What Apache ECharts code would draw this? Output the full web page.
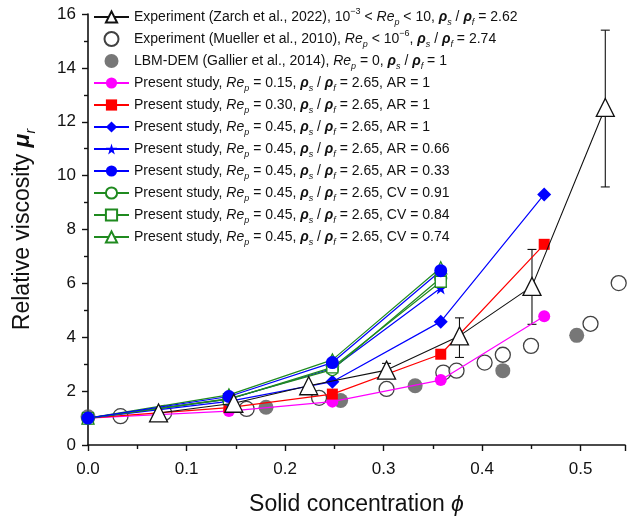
<!DOCTYPE html>
<html><head><meta charset="utf-8">
<script src="https://cdn.jsdelivr.net/npm/echarts@6/dist/echarts.min.js"></script>
<style>html,body{margin:0;padding:0;background:#fff}#c{width:629px;height:521px}</style>
</head><body><div id="c"></div>
<script>
// ---- data ----
const presentX = [0, 0.143, 0.248, 0.358, 0.463];
const re015 = [1, 1.26, 1.61, 2.41, 4.78];
const re030 = [1, 1.39, 1.89, 3.37, 7.45];
const ar100 = [1, 1.62, 2.35, 4.58, 9.30];
const ar066 = [1, 1.70, 2.84, 5.83];
const ar033 = [1, 1.80, 3.06, 6.47];
const cv091 = [1, 1.72, 2.80, 6.20];
const cv084 = [1, 1.70, 2.88, 6.06];
const cv074 = [1, 1.86, 3.16, 6.58];

const zarchX = [0.0716, 0.148, 0.224, 0.303, 0.377, 0.4506, 0.525];
const zarchY = [1.19, 1.55, 2.20, 2.78, 4.05, 5.89, 12.53];
const zarchLo = [null, null, null, 2.53, 3.25, 4.48, 9.58];
const zarchHi = [null, null, null, 3.03, 4.72, 7.26, 15.40];

const muellerX = [0.033, 0.0773, 0.161, 0.2345, 0.303, 0.3606, 0.374, 0.4025, 0.421, 0.4496, 0.510, 0.5386];
const muellerY = [1.07, 1.19, 1.34, 1.75, 2.08, 2.69, 2.76, 3.06, 3.35, 3.68, 4.50, 6.01];

const gallierX = [0, 0.1807, 0.2564, 0.332, 0.421, 0.496];
const gallierY = [1.05, 1.40, 1.65, 2.20, 2.76, 4.07];

const xTicks = [0, 0.1, 0.2, 0.3, 0.4, 0.5];
const yTicks = [0, 2, 4, 6, 8, 10, 12, 14, 16];

const names = [
  'Zarch', 'Mueller', 'Gallier', 'Re015', 'Re030', 'AR1', 'AR066', 'AR033', 'CV091', 'CV084', 'CV074'
];
const labels = {
  Zarch: 'Experiment (Zarch et al., 2022), 10{sup|−3} < {i|Re}{sub|p} < 10, {rho|ρ}{sub|s} / {rho|ρ}{sub|f} = 2.62',
  Mueller: 'Experiment (Mueller et al., 2010), {i|Re}{sub|p} < 10{sup|−6}, {rho|ρ}{sub|s} / {rho|ρ}{sub|f} = 2.74',
  Gallier: 'LBM-DEM (Gallier et al., 2014), {i|Re}{sub|p} = 0, {rho|ρ}{sub|s} / {rho|ρ}{sub|f} = 1',
  Re015: 'Present study, {i|Re}{sub|p} = 0.15, {rho|ρ}{sub|s} / {rho|ρ}{sub|f} = 2.65, AR = 1',
  Re030: 'Present study, {i|Re}{sub|p} = 0.30, {rho|ρ}{sub|s} / {rho|ρ}{sub|f} = 2.65, AR = 1',
  AR1: 'Present study, {i|Re}{sub|p} = 0.45, {rho|ρ}{sub|s} / {rho|ρ}{sub|f} = 2.65, AR = 1',
  AR066: 'Present study, {i|Re}{sub|p} = 0.45, {rho|ρ}{sub|s} / {rho|ρ}{sub|f} = 2.65, AR = 0.66',
  AR033: 'Present study, {i|Re}{sub|p} = 0.45, {rho|ρ}{sub|s} / {rho|ρ}{sub|f} = 2.65, AR = 0.33',
  CV091: 'Present study, {i|Re}{sub|p} = 0.45, {rho|ρ}{sub|s} / {rho|ρ}{sub|f} = 2.65, CV = 0.91',
  CV084: 'Present study, {i|Re}{sub|p} = 0.45, {rho|ρ}{sub|s} / {rho|ρ}{sub|f} = 2.65, CV = 0.84',
  CV074: 'Present study, {i|Re}{sub|p} = 0.45, {rho|ρ}{sub|s} / {rho|ρ}{sub|f} = 2.65, CV = 0.74'
};

const FONT = 'Liberation Sans, Arial, sans-serif';
const GREEN = '#1f8a1f';
const STAR = 'path://M50,0 L61,35 L98,35 L68,57 L79,91 L50,70 L21,91 L32,57 L2,35 L39,35 Z';

function zip(xs, ys) { return xs.map((x, i) => i < ys.length ? [x, ys[i]] : null).filter(d => d); }

function lineSeries(name, ys, color, symbol, size, open) {
  return {
    name, type: 'line', data: zip(presentX, ys), symbol, symbolSize: size,
    lineStyle: { color, width: 1.2 },
    itemStyle: open ? { color: '#fff', borderColor: color, borderWidth: 1.3 } : { color, borderWidth: 0 },
    z: 3
  };
}

const errData = zarchX.map((x, i) => [x, zarchLo[i], zarchHi[i]]).filter(d => d[1] != null);

const chart = echarts.init(document.getElementById('c'), null, { renderer: 'canvas' });
chart.setOption({
  animation: false,
  textStyle: { fontFamily: FONT },
  grid: { left: 84, right: 4, top: 14, bottom: 73, containLabel: false },
  legend: {
    orient: 'vertical', left: 88, top: 2, itemGap: 2, itemWidth: 35, itemHeight: 14,
    data: names,
    formatter: n => labels[n],
    textStyle: {
      fontFamily: FONT, fontSize: 14, color: '#111', lineHeight: 20,
      rich: {
        i: { fontStyle: 'italic', fontSize: 14, fontFamily: FONT, color: '#111', lineHeight: 20 },
        rho: { fontStyle: 'italic', fontWeight: 'bold', fontSize: 14, fontFamily: FONT, color: '#111', lineHeight: 20 },
        sub: { fontSize: 9, fontFamily: FONT, color: '#111', fontStyle: 'italic', lineHeight: 10, verticalAlign: 'bottom' },
        sup: { fontSize: 9, fontFamily: FONT, color: '#111', lineHeight: 10, verticalAlign: 'top' }
      }
    }
  },
  xAxis: {
    type: 'value', min: 0, max: 0.545, interval: 0.1,
    name: 'Solid concentration {i|ϕ}', nameLocation: 'middle', nameGap: 48,
    nameTextStyle: { fontSize: 23, color: '#111', fontFamily: FONT,
      rich: { i: { fontStyle: 'italic', fontSize: 23, fontFamily: FONT, color: '#111' } } },
    axisLine: { lineStyle: { color: '#111', width: 1.6 } },
    axisTick: { show: true, length: 6, lineStyle: { color: '#111', width: 1.4 } },
    minorTick: { show: true, splitNumber: 2, length: 4, lineStyle: { color: '#111', width: 1.4 } },
    splitLine: { show: false },
    axisLabel: { fontSize: 17, color: '#111', margin: 16, showMaxLabel: false,
      formatter: v => xTicks.some(t => Math.abs(t - v) < 1e-9) ? v.toFixed(1) : '' }
  },
  yAxis: {
    type: 'value', min: 0, max: 16, interval: 2,
    name: 'Relative viscosity {mu|μ}{sub|r}', nameLocation: 'middle', nameGap: 50,
    nameTextStyle: { fontSize: 23, color: '#111', fontFamily: FONT, lineHeight: 30,
      rich: {
        mu: { fontStyle: 'italic', fontWeight: 'bold', fontSize: 23, fontFamily: FONT, color: '#111', lineHeight: 30 },
        sub: { fontStyle: 'italic', fontSize: 14, fontFamily: FONT, color: '#111', lineHeight: 15, verticalAlign: 'bottom' }
      } },
    axisLine: { show: true, lineStyle: { color: '#111', width: 1.6 } },
    axisTick: { show: true, length: 6, lineStyle: { color: '#111', width: 1.4 } },
    minorTick: { show: true, splitNumber: 2, length: 4, lineStyle: { color: '#111', width: 1.4 } },
    splitLine: { show: false },
    axisLabel: { fontSize: 17, color: '#111', margin: 12,
      formatter: v => yTicks.includes(v) ? String(v) : '' }
  },
  series: [
    {
      name: 'ZarchErr', type: 'custom', data: errData, z: 1,
      renderItem: (params, api) => {
        const x = api.value(0), lo = api.value(1), hi = api.value(2);
        const a = api.coord([x, lo]), b = api.coord([x, hi]);
        const st = { stroke: '#111', lineWidth: 1.1 };
        return { type: 'group', children: [
          { type: 'line', shape: { x1: a[0], y1: a[1], x2: b[0], y2: b[1] }, style: st },
          { type: 'line', shape: { x1: a[0] - 4.5, y1: a[1], x2: a[0] + 4.5, y2: a[1] }, style: st },
          { type: 'line', shape: { x1: b[0] - 4.5, y1: b[1], x2: b[0] + 4.5, y2: b[1] }, style: st }
        ] };
      }
    },
    {
      name: 'Zarch', type: 'line', data: zip(zarchX, zarchY), symbol: 'triangle', symbolSize: 18,
      lineStyle: { color: '#111', width: 1.1 },
      itemStyle: { color: '#fff', borderColor: '#111', borderWidth: 1.3 }, z: 4
    },
    {
      name: 'Mueller', type: 'scatter', data: zip(muellerX, muellerY), symbol: 'circle', symbolSize: 15,
      itemStyle: { color: '#fff', borderColor: '#111', borderWidth: 1.3 }, z: 2
    },
    {
      name: 'Gallier', type: 'scatter', data: zip(gallierX, gallierY), symbol: 'circle', symbolSize: 15,
      itemStyle: { color: '#555', borderWidth: 0 }, z: 2
    },
    lineSeries('Re015', re015, '#ff00ff', 'circle', 12, false),
    lineSeries('Re030', re030, '#ff0000', 'rect', 11, false),
    lineSeries('AR1', ar100, '#0000ff', 'diamond', 14, false),
    lineSeries('AR066', ar066, '#0000ff', STAR, 13, false),
    lineSeries('CV091', cv091, GREEN, 'circle', 12, true),
    lineSeries('CV084', cv084, GREEN, 'rect', 11, true),
    lineSeries('CV074', cv074, GREEN, 'triangle', 12, true),
    lineSeries('AR033', ar033, '#0000ff', 'circle', 13, false)
  ]
});
</script></body></html>
